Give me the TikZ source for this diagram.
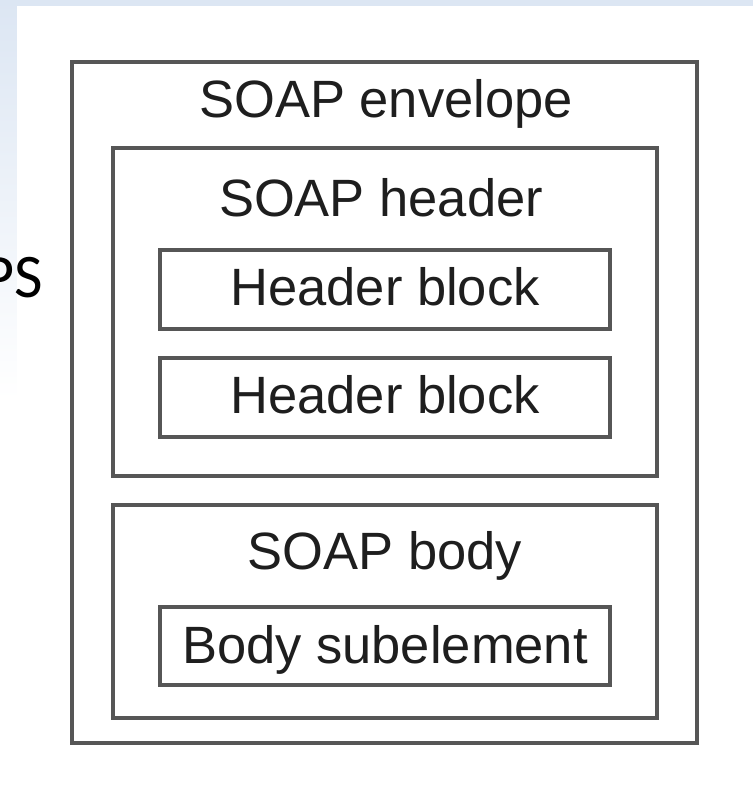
\documentclass[tikz,border=0pt]{standalone}
\usepackage{fontspec}
\setmainfont{Liberation Sans}
\newfontfamily\slidefont{Carlito}
\definecolor{slideblue}{HTML}{DCE6F3}
\definecolor{frameline}{HTML}{565656}
\definecolor{labeltext}{HTML}{1E1E1E}
\begin{document}
\begin{tikzpicture}[x=1pt,y=-1pt,
  box/.style={draw=frameline, line width=3.6pt, minimum width=#1, inner sep=0pt},
  label/.style={text=labeltext, font=\fontsize{52.5}{60}\selectfont, anchor=base, inner sep=0pt}]
  \useasboundingbox (0,0) rectangle (753,798);
  % slide background: blue band along top and left, white panel
  \fill[slideblue] (0,0) rectangle (753,798);
  \shade[top color=slideblue, bottom color=white] (0,0) rectangle (17,400);
  \fill[white] (0,400) rectangle (17,798);
  \fill[white] (17,6) rectangle (753,798);
  % slide text running in from the left edge
  \node[font=\slidefont\fontsize{62}{70}\selectfont, anchor=base east, inner sep=0pt] (slidetext) at (43,297) {PS};
  % nested message structure
  \node[box=625pt, minimum height=681pt] (envelope) at (384.5,402.5) {};
  \node[box=544pt, minimum height=328pt] (header) at (385,312) {};
  \node[box=544pt, minimum height=213pt] (body) at (385,611.5) {};
  \node[box=450pt, minimum height=79pt] (hb1) at (385,289.5) {};
  \node[box=450pt, minimum height=79pt] (hb2) at (385,397.5) {};
  \node[box=450pt, minimum height=78pt] (sub) at (385,646) {};
  % labels
  \node[label] (envlabel) at (386,117) {SOAP envelope};
  \node[label] (headlabel) at (381,216) {SOAP header};
  \node[label] (hb1label) at (385,305) {Header block};
  \node[label] (hb2label) at (385,413) {Header block};
  \node[label] (bodylabel) at (385,569) {SOAP body};
  \node[label] (sublabel) at (385,663) {Body subelement};
\end{tikzpicture}
\end{document}
